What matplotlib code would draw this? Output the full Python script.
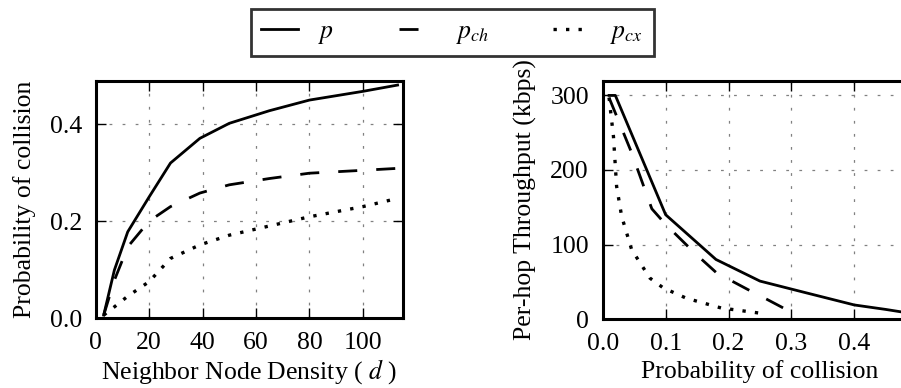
import matplotlib
matplotlib.use("Agg")
import matplotlib.pyplot as plt

plt.rcParams['font.family'] = ['Liberation Serif', 'DejaVu Serif']
plt.rcParams['mathtext.fontset'] = 'stix'
plt.rcParams['lines.scale_dashes'] = False

# Left panel: probability of collision vs neighbor node density
density = [3, 7, 12, 20, 28, 39, 50, 65, 80, 100, 113]
p_total = [0.006, 0.099, 0.178, 0.25, 0.32, 0.371, 0.402, 0.428, 0.45, 0.468, 0.481]
p_ch = [0.006, 0.078, 0.147, 0.20, 0.23, 0.258, 0.275, 0.288, 0.299, 0.305, 0.309]
p_cx = [0.006, 0.023, 0.045, 0.075, 0.123, 0.151, 0.171, 0.19, 0.209, 0.23, 0.247]

# Right panel: per-hop throughput vs probability of collision
pc_p = [0.01, 0.02, 0.10, 0.18, 0.25, 0.32, 0.40, 0.45, 0.48]
thr_p = [300, 300, 140, 80, 51, 36, 19, 13, 9]
pc_ch = [0.01, 0.045, 0.078, 0.10, 0.147, 0.181, 0.23, 0.26, 0.287]
thr_ch = [297, 225, 148, 127, 88, 62, 40, 27, 15]
pc_cx = [0.01, 0.017, 0.022, 0.03, 0.046, 0.075, 0.096, 0.133, 0.188, 0.25]
thr_cx = [297, 245, 178, 138, 93, 55, 42, 28, 15, 8]

labels = ['$p$', '$p_{ch}$', '$p_{cx}$']
styles = ['-', (0, (13.7, 13.7)), (0, (2.4, 6.6))]
widths = [2.0, 2.0, 2.4]

FS = 18.5

fig = plt.figure(figsize=(9.01, 3.88), dpi=100)
ax1 = fig.add_axes([0.1062, 0.1804, 0.341, 0.6116])
ax2 = fig.add_axes([0.669, 0.1775, 0.349, 0.615])

h = []
for y, ls, lw, lab in zip([p_total, p_ch, p_cx], styles, widths, labels):
    l, = ax1.plot(density, y, color='black', lw=lw, linestyle=ls, label=lab)
    h.append(l)
for x, y, ls, lw in zip([pc_p, pc_ch, pc_cx], [thr_p, thr_ch, thr_cx], styles, widths):
    ax2.plot(x, y, color='black', lw=lw, linestyle=ls)

ax1.set_xlim(0, 115)
ax1.set_ylim(0, 0.49)
ax1.set_xticks([0, 20, 40, 60, 80, 100])
ax1.set_yticks([0.0, 0.2, 0.4])
ax1.set_xlabel('Neighbor Node Density ( $d$ )', fontsize=FS, labelpad=2.5)
ax1.set_ylabel('Probability of collision', fontsize=FS, labelpad=9.5)

ax2.set_xlim(0, 0.5)
ax2.set_ylim(0, 320)
ax2.set_xticks([0.0, 0.1, 0.2, 0.3, 0.4])
ax2.set_yticks([0, 100, 200, 300])
ax2.set_xlabel('Probability of collision', fontsize=FS, labelpad=3.5)
ax2.set_ylabel('Per-hop Throughput (kbps)', fontsize=FS, labelpad=9.5)

for ax in (ax1, ax2):
    ax.grid(True, color='0.5', lw=0.9, linestyle=(0, (2, 7.4)))
    ax.set_axisbelow(True)
    for s in ax.spines.values():
        s.set_linewidth(2.2)
    ax.tick_params(direction='in', length=7, width=1, top=True, right=True,
                   labelsize=FS, pad=10)
ax1.xaxis.set_major_formatter(matplotlib.ticker.FormatStrFormatter('%d'))
ax1.yaxis.set_major_formatter(matplotlib.ticker.FormatStrFormatter('%.1f'))
ax2.xaxis.set_major_formatter(matplotlib.ticker.FormatStrFormatter('%.1f'))

leg = fig.legend(h, labels, loc='center', bbox_to_anchor=(0.502, 0.916), ncol=3,
                 fontsize=FS, frameon=True, fancybox=False, handlelength=1.42,
                 columnspacing=2.5, borderpad=0.4, handletextpad=0.8)
leg.get_frame().set_edgecolor('black')
leg.get_frame().set_linewidth(2.0)

fig.savefig('out.png', dpi=100)
